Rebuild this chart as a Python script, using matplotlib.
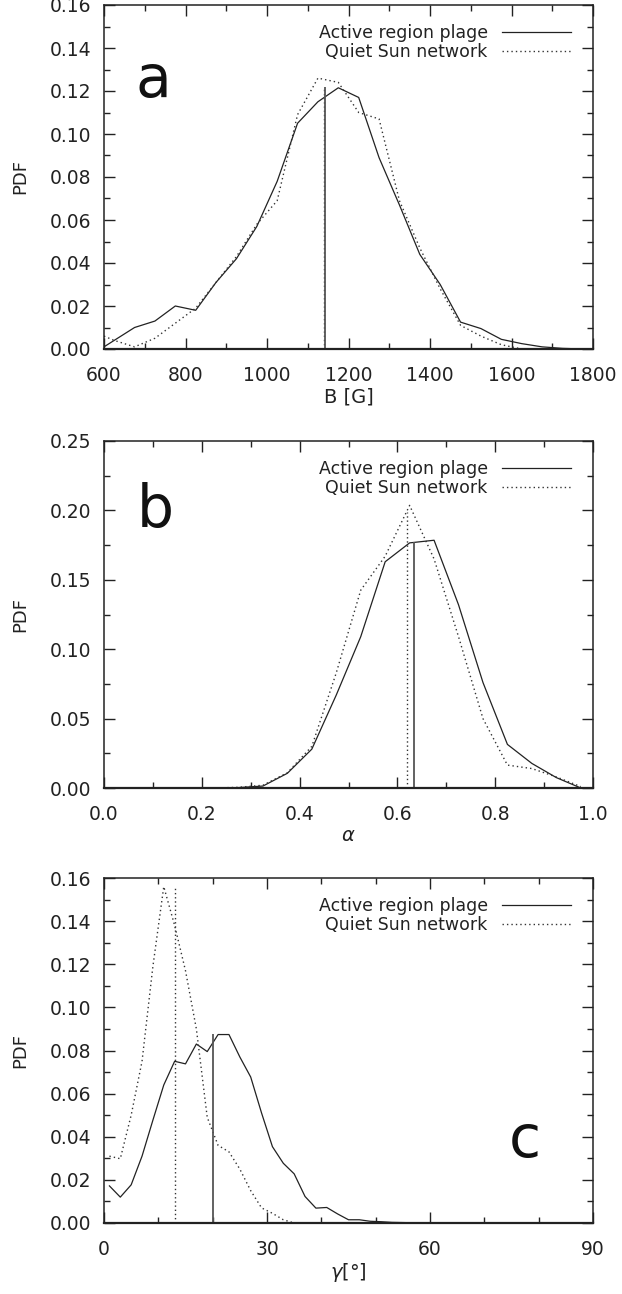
import matplotlib
matplotlib.use("Agg")
import matplotlib.pyplot as plt
from matplotlib.ticker import MultipleLocator, FormatStrFormatter

# ---- panel a : field strength B [G]
b_x = [600, 625, 675, 725, 775, 825, 875, 925, 975, 1025, 1075, 1125, 1175,
       1225, 1275, 1325, 1375, 1425, 1475, 1525, 1575, 1625, 1675, 1725, 1775]
b_plage = [0.001, 0.004, 0.010, 0.013, 0.020, 0.018, 0.031, 0.042, 0.057, 0.078,
           0.105, 0.115, 0.1215, 0.117, 0.089, 0.067, 0.044, 0.030, 0.0125,
           0.0095, 0.0045, 0.0025, 0.001, 0.0003, 0.0]
b_net_x = [600, 625, 675, 725, 775, 825, 875, 925, 975, 1025, 1075, 1125, 1175,
           1225, 1275, 1325, 1375, 1425, 1475, 1525, 1575, 1625]
b_net = [0.006, 0.004, 0.001, 0.005, 0.012, 0.019, 0.031, 0.043, 0.058, 0.069,
         0.109, 0.126, 0.124, 0.110, 0.107, 0.069, 0.047, 0.028, 0.011, 0.006,
         0.002, 0.0]

# ---- panel b : filling factor alpha
a_x = [0.025, 0.075, 0.125, 0.175, 0.225, 0.275, 0.325, 0.375, 0.425, 0.475,
       0.525, 0.575, 0.625, 0.675, 0.725, 0.775, 0.825, 0.875, 0.925, 0.975]
a_plage = [0.0, 0.0, 0.0, 0.0, 0.0, 0.0003, 0.0014, 0.0106, 0.028, 0.067,
           0.109, 0.163, 0.1766, 0.1785, 0.132, 0.076, 0.0314, 0.0177, 0.0075, 0.0]
a_net = [0.0, 0.0, 0.0, 0.0, 0.0, 0.0005, 0.002, 0.011, 0.030, 0.083,
         0.1425, 0.167, 0.2036, 0.165, 0.109, 0.050, 0.0165, 0.014, 0.008, 0.001]

# ---- panel c : inclination gamma [deg]
g_x = [1, 3, 5, 7, 9, 11, 13, 15, 17, 19, 21, 23, 25, 27, 29, 31, 33, 35, 37,
       39, 41, 43, 45, 47, 49, 51, 53, 55, 57, 59]
g_plage = [0.0172, 0.012, 0.0177, 0.031, 0.0477, 0.064, 0.075, 0.0738, 0.083,
           0.0795, 0.0874, 0.0874, 0.077, 0.0677, 0.051, 0.0354, 0.0277, 0.0228,
           0.0123, 0.0069, 0.0072, 0.0042, 0.0015, 0.0015, 0.0008, 0.0006,
           0.0003, 0.0002, 0.0001, 0.0]
g_net_x = [1, 3, 5, 7, 9, 11, 13, 15, 17, 19, 21, 23, 25, 27, 29, 31, 33, 35]
g_net = [0.031, 0.0298, 0.050, 0.075, 0.119, 0.156, 0.138, 0.117, 0.090, 0.049,
         0.036, 0.033, 0.025, 0.015, 0.007, 0.0045, 0.0015, 0.0]

# mean values (x) and heights of the vertical markers: (plage, network)
mean_x = {"a": (1142, 1140), "b": (0.634, 0.620), "c": (20.0, 13.0)}
mean_h = {"a": (0.1217, 0.1217), "b": (0.1775, 0.199), "c": (0.0875, 0.156)}

labels = ["Active region plage", "Quiet Sun network"]

plt.rcParams['font.family'] = ['DejaVu Sans']
plt.rcParams['text.color'] = '#222222'
plt.rcParams['axes.labelcolor'] = '#222222'

fig = plt.figure(figsize=(6.22, 12.94), dpi=100)
W, H = 622.0, 1294.0
left, right = 104 / W, 593 / W
tops = [5, 441, 878]
bots = [349, 788, 1223]

panels = [
    dict(key="a", x1=b_x, y1=b_plage, x2=b_net_x, y2=b_net, xlim=(600, 1800),
         ylim=(0, 0.16), xmaj=200, xmin=100, ymaj=0.02, ymin=0.01,
         xlabel="B [G]", xfmt="%d", lab_pos=(0.10, 0.78)),
    dict(key="b", x1=a_x, y1=a_plage, x2=a_x, y2=a_net, xlim=(0, 1),
         ylim=(0, 0.25), xmaj=0.2, xmin=0.1, ymaj=0.05, ymin=0.025,
         xlabel=r"$\alpha$", xfmt="%.1f", lab_pos=(0.105, 0.80)),
    dict(key="c", x1=g_x, y1=g_plage, x2=g_net_x, y2=g_net, xlim=(0, 90),
         ylim=(0, 0.16), xmaj=30, xmin=10, ymaj=0.02, ymin=0.01,
         xlabel=r"$\gamma$[°]", xfmt="%d", lab_pos=(0.86, 0.24)),
]

for p, t, b in zip(panels, tops, bots):
    ax = fig.add_axes([left, 1 - b / H, right - left, (b - t) / H])
    l1, = ax.plot(p["x1"], p["y1"], color='#222222', lw=0.9)
    l2, = ax.plot(p["x2"], p["y2"], color='#333333', lw=1.0, ls=(0, (1, 2.2)))
    ms, md = mean_x[p["key"]]
    hs, hd = mean_h[p["key"]]
    ax.vlines(md, 0, hd, color='#333333', lw=1.0, linestyles=[(0, (1, 2))])
    ax.vlines(ms, 0, hs, color='#555555', lw=1.3)

    ax.set_xlim(*p["xlim"])
    ax.set_ylim(*p["ylim"])
    ax.xaxis.set_major_locator(MultipleLocator(p["xmaj"]))
    ax.xaxis.set_minor_locator(MultipleLocator(p["xmin"]))
    ax.yaxis.set_major_locator(MultipleLocator(p["ymaj"]))
    ax.yaxis.set_minor_locator(MultipleLocator(p["ymin"]))
    ax.yaxis.set_major_formatter(FormatStrFormatter("%.2f"))
    ax.xaxis.set_major_formatter(FormatStrFormatter(p["xfmt"]))
    ax.tick_params(which='both', direction='in', top=True, right=True,
                   labelsize=13.5, colors='#222222', width=1.0)
    ax.tick_params(which='major', length=8)
    ax.tick_params(which='minor', length=4)
    ax.tick_params(axis='x', which='major', pad=12)
    ax.tick_params(axis='y', which='major', pad=9)
    for s in ax.spines.values():
        s.set_linewidth(1.1)
        s.set_color('#222222')
    ax.spines['bottom'].set_linewidth(1.6)

    ax.set_ylabel("PDF", fontsize=13, labelpad=15)
    ax.set_xlabel(p["xlabel"], fontsize=14, labelpad=2)

    ax.legend([l1, l2], labels, loc='upper right', bbox_to_anchor=(0.955, 0.945),
              frameon=False, markerfirst=False, fontsize=12.5, handlelength=4.0,
              handletextpad=0.8, labelspacing=0.05, borderpad=0, borderaxespad=0)
    ax.text(p["lab_pos"][0], p["lab_pos"][1], p["key"], transform=ax.transAxes,
            fontsize=42, ha='center', va='center', color='#111111')

fig.savefig("out.png", dpi=100)
